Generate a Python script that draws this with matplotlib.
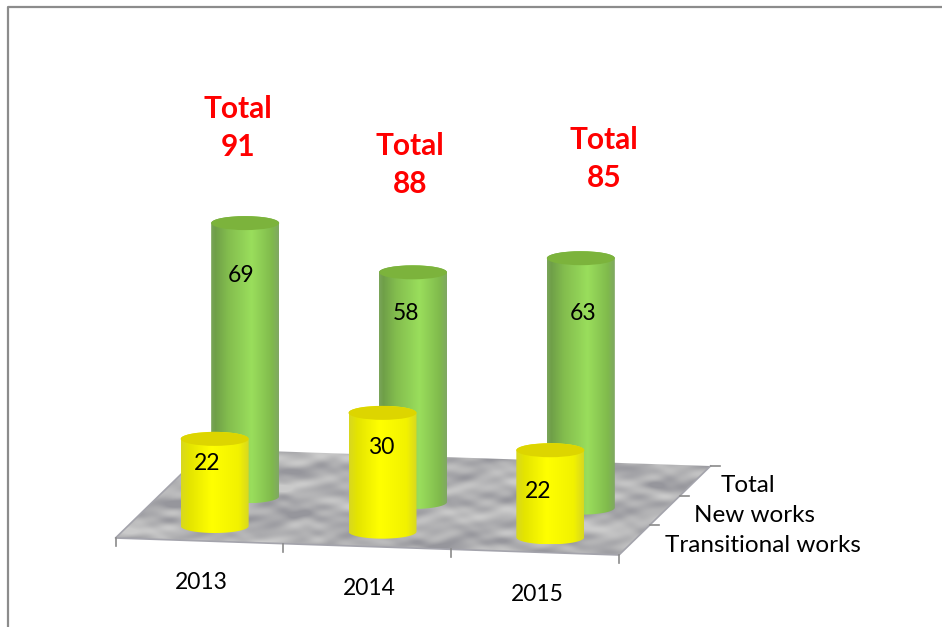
import numpy as np
import matplotlib
matplotlib.use("Agg")
import matplotlib.pyplot as plt
from matplotlib.colors import LinearSegmentedColormap
from matplotlib.patches import Ellipse, PathPatch, Polygon
from matplotlib.path import Path

plt.rcParams["font.family"] = ["Lato", "DejaVu Sans"]

years = ["2013", "2014", "2015"]
rows = ["Transitional works", "New works", "Total"]
transitional_works = [22, 30, 22]
new_works = [69, 58, 63]
totals = [91, 88, 85]

# floor corners in pixels, the chart is a fake 3d one
FRONT_LEFT = np.array([115.5, 538.0])
FRONT_RIGHT = np.array([619.0, 555.0])
BACK_LEFT = np.array([207.0, 449.0])
PX_PER_UNIT = 3.96
RADIUS_X = 34
RADIUS_Y = 7

# hand placed labels, same as the original
VALUE_LABEL_XY = {"new": [(241, 275), (406, 313), (583, 313)],
                  "trans": [(207, 464), (381, 448), (538, 492)]}
TOTAL_LABEL_XY = [(238, 128), (410, 165), (604, 159)]
ROW_LABEL_XY = [(763, 546), (754, 516), (748, 486)]

GREEN = LinearSegmentedColormap.from_list(
    "green", [(0, "#7aa55a"), (0.06, "#6f9f48"), (0.25, "#83bd4e"), (0.6, "#9ade5c"),
              (0.9, "#80ba4c"), (1, "#7fa862")])
YELLOW = LinearSegmentedColormap.from_list(
    "yellow", [(0, "#d8d820"), (0.12, "#e4e400"), (0.45, "#ffff00"),
               (0.85, "#f2f200"), (1, "#d8d820")])
STONE = LinearSegmentedColormap.from_list("stone", ["#96969c", "#b2b2b4", "#cacaca"])


def floor_xy(u, v):
    """u is in categories (0-3), v is in depth rows (0-3)."""
    return FRONT_LEFT + u / 3 * (FRONT_RIGHT - FRONT_LEFT) + v / 3 * (BACK_LEFT - FRONT_LEFT)


def draw_floor(ax):
    corners = [floor_xy(0, 0), floor_xy(3, 0), floor_xy(3, 3), floor_xy(0, 3)]
    patch = Polygon(corners, closed=True, facecolor="none", edgecolor="none", zorder=1)
    ax.add_patch(patch)
    # mottled stone look, only a texture
    xx, yy = np.meshgrid(np.arange(100, 730), np.arange(440, 565))
    tex = np.zeros_like(xx, dtype=float)
    for fx, fy, phase, amp in [(0.041, 0.17, 0.4, 1.0), (0.067, -0.23, 1.3, 0.9),
                               (0.023, 0.31, 2.2, 0.8), (0.113, 0.29, 3.7, 0.7),
                               (0.089, -0.41, 0.9, 0.6), (0.157, 0.53, 5.1, 0.5),
                               (0.211, -0.37, 2.9, 0.4), (0.017, -0.13, 4.4, 0.9)]:
        tex += amp * np.sin(xx * fx + yy * fy + phase + np.sin(xx * fx * 0.37 - yy * 0.07))
    img = ax.imshow(tex, cmap=STONE, vmin=-3.2, vmax=3.2, extent=(100, 730, 565, 440),
                    aspect="auto", zorder=1, interpolation="bilinear")
    img.set_clip_path(patch)
    ax.plot([corners[3][0], corners[0][0], corners[1][0], corners[2][0]],
            [corners[3][1], corners[0][1], corners[1][1], corners[2][1]],
            color="#a4a4ac", lw=1.2, zorder=1.2)

    for u in range(4):
        x, y = floor_xy(u, 0)
        ax.plot([x, x], [y, y + 8], color="#8a8a8a", lw=1.2, zorder=1.2)
    for v in range(1, 4):
        x, y = floor_xy(3, v)
        ax.plot([x, x + 9], [y, y], color="#8a8a8a", lw=1.2, zorder=1.2)


def draw_cylinder(ax, u, v, value, cmap, top_color, z):
    cx, base_y = floor_xy(u, v)
    top_y = base_y - value * PX_PER_UNIT
    left, right = cx - RADIUS_X, cx + RADIUS_X

    t = np.linspace(np.pi, 0, 40)
    bottom_arc = np.column_stack([cx + RADIUS_X * np.cos(t), base_y + RADIUS_Y * np.sin(t)])
    top_arc = np.column_stack([cx + RADIUS_X * np.cos(t[::-1]), top_y - RADIUS_Y * np.sin(t[::-1])])
    verts = np.vstack([bottom_arc, top_arc, bottom_arc[:1]])
    body = PathPatch(Path(verts), facecolor="none", edgecolor="none", zorder=z)
    ax.add_patch(body)

    grad = np.linspace(0, 1, 128).reshape(1, -1)
    img = ax.imshow(grad, cmap=cmap, extent=(left, right, base_y + RADIUS_Y, top_y - RADIUS_Y),
                    aspect="auto", zorder=z, interpolation="bilinear")
    img.set_clip_path(body)
    ax.add_patch(Ellipse((cx, top_y), 2 * RADIUS_X, 2 * RADIUS_Y, facecolor=top_color,
                         edgecolor="none", zorder=z + 0.1))


fig = plt.figure(figsize=(9.42, 6.27), dpi=100)
ax = fig.add_axes([0, 0, 1, 1])
draw_floor(ax)

for i, value in enumerate(new_works):
    draw_cylinder(ax, i + 0.5, 1.5, value, GREEN, "#7cb33c", 3 + i * 0.2)
for i, value in enumerate(transitional_works):
    draw_cylinder(ax, i + 0.5, 0.5, value, YELLOW, "#ddd500", 5 + i * 0.2)

for value, (x, y) in zip(new_works, VALUE_LABEL_XY["new"]):
    ax.text(x, y, str(value), ha="center", va="center", fontsize=16.5, color="black", zorder=8)
for value, (x, y) in zip(transitional_works, VALUE_LABEL_XY["trans"]):
    ax.text(x, y, str(value), ha="center", va="center", fontsize=16.5, color="black", zorder=8)
for value, (x, y) in zip(totals, TOTAL_LABEL_XY):
    ax.text(x, y, f"Total\n{value}", ha="center", va="center", fontsize=21.5, color="#ff0000",
            fontweight="bold", linespacing=1.45, zorder=8)

for i, year in enumerate(years):
    x, y = floor_xy(i + 0.5, 0)
    ax.text(x + 2, y + 42, year, ha="center", va="center", fontsize=16.5, color="black", zorder=8)
for row, (x, y) in zip(rows, ROW_LABEL_XY):
    ax.text(x, y, row, ha="center", va="center", fontsize=17.5, color="black", zorder=8)

# chart frame, cut off at the right and bottom of the screenshot
ax.plot([8, 8, 942], [627, 7, 7], color="#8c8c8c", lw=1.6, zorder=9)

ax.set_xlim(0, 942)
ax.set_ylim(627, 0)
ax.axis("off")
fig.savefig("out.png", dpi=100)
